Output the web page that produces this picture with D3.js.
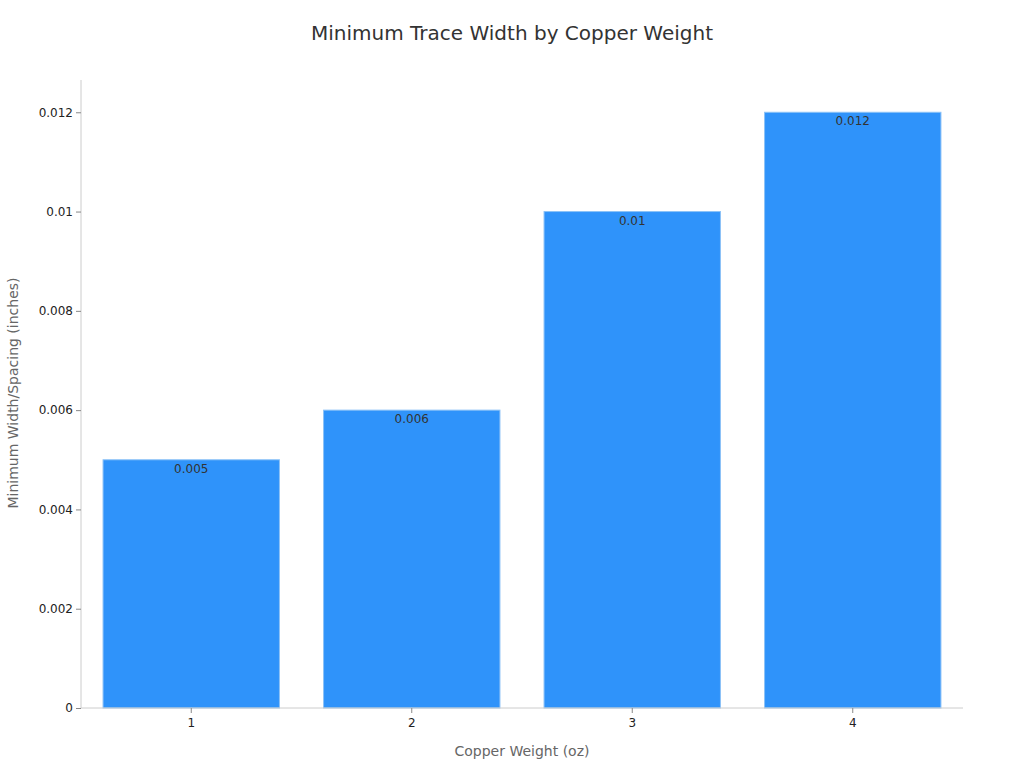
<!DOCTYPE html>
<html><head><meta charset="utf-8">
<script src="https://cdn.jsdelivr.net/npm/d3@7"></script>
<style>body{margin:0;background:#fff;}svg{display:block;font-family:"DejaVu Sans",sans-serif;}</style>
</head><body>
<svg id="c" width="1024" height="768"></svg>
<script>
const categories = ["1", "2", "3", "4"];
const values = [0.005, 0.006, 0.01, 0.012];
const yTicks = [0, 0.002, 0.004, 0.006, 0.008, 0.01, 0.012];
const yTickLabels = ["0", "0.002", "0.004", "0.006", "0.008", "0.01", "0.012"];
const title = "Minimum Trace Width by Copper Weight";
const xTitle = "Copper Weight (oz)";
const yTitle = "Minimum Width/Spacing (inches)";

const svg = d3.select("#c");
const m = {l: 81, r: 61, t: 80, b: 60};
const W = 1024, H = 768;
const x = d3.scaleBand().domain(categories).range([m.l, W - m.r]).paddingInner(0.2).paddingOuter(0.1);
const y = d3.scaleLinear().domain([0, 0.01265]).range([H - m.b, m.t]);

svg.append("text").attr("x", 512).attr("y", 40).attr("text-anchor", "middle")
  .attr("font-size", 20).attr("fill", "#333").text(title);

// bars
svg.selectAll("rect.bar").data(values).enter().append("rect")
  .attr("x", (d, i) => x(categories[i]))
  .attr("y", d => y(d))
  .attr("width", x.bandwidth())
  .attr("height", d => y(0) - y(d))
  .attr("fill", "#2f93fa").attr("stroke", "#8cc2f7").attr("stroke-width", 1);

svg.selectAll("text.lbl").data(values).enter().append("text")
  .attr("x", (d, i) => x(categories[i]) + x.bandwidth() / 2)
  .attr("y", d => y(d) + 13)
  .attr("text-anchor", "middle").attr("font-size", 12).attr("fill", "#333")
  .text((d, i) => yTickLabels[yTicks.indexOf(d)] || String(d));

// y axis
const ya = svg.append("g").attr("transform", `translate(${m.l},0)`)
  .call(d3.axisLeft(y).tickValues(yTicks).tickFormat((d, i) => yTickLabels[i]).tickSize(5).tickPadding(3));
ya.select(".domain").attr("stroke", "#ccc").attr("d", `M0,${y(0)}V${m.t}`);
ya.selectAll(".tick line").attr("stroke", "#888");
ya.selectAll(".tick text").attr("font-size", 12).attr("fill", "#222").attr("font-family", "DejaVu Sans");

// x axis
const xa = svg.append("g").attr("transform", `translate(0,${H - m.b})`)
  .call(d3.axisBottom(x).tickSize(5).tickPadding(5));
xa.select(".domain").attr("stroke", "#ccc").attr("d", `M${m.l},0H${W - m.r}`);
xa.selectAll(".tick line").attr("stroke", "#888");
xa.selectAll(".tick text").attr("font-size", 12).attr("fill", "#222").attr("font-family", "DejaVu Sans");

svg.append("text").attr("x", (m.l + W - m.r) / 2).attr("y", 756).attr("text-anchor", "middle")
  .attr("font-size", 14).attr("fill", "#666").text(xTitle);
svg.append("text").attr("transform", `translate(18,${(m.t + H - m.b) / 2 - 1}) rotate(-90)`)
  .attr("text-anchor", "middle").attr("font-size", 14).attr("fill", "#666").text(yTitle);
</script>
</body></html>
